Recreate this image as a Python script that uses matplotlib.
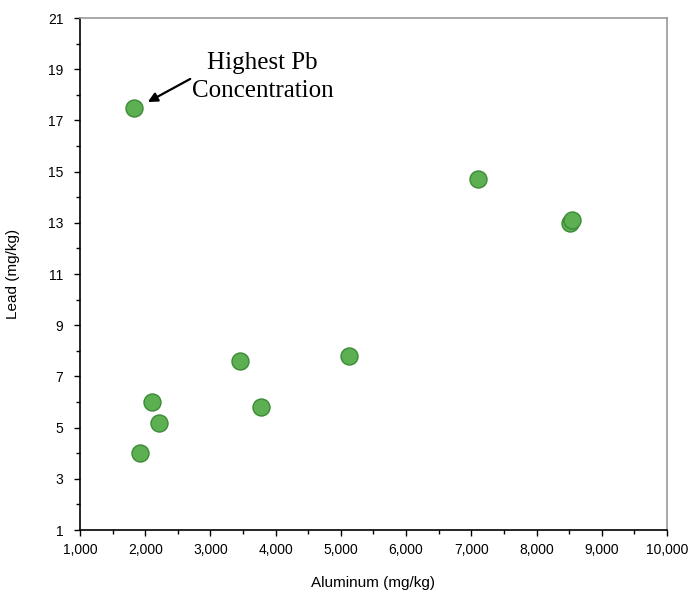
import matplotlib
matplotlib.use('Agg')
import matplotlib.pyplot as plt
from matplotlib.ticker import MultipleLocator, FuncFormatter

# aluminum vs lead concentrations (mg/kg)
aluminum = [1830, 7100, 8520, 8540, 5130, 3450, 3780, 2100, 2210, 1920]
lead = [17.5, 14.7, 13.0, 13.1, 7.8, 7.6, 5.8, 6.0, 5.2, 4.0]

x_ticks = list(range(1000, 10001, 1000))
y_ticks = list(range(1, 22, 2))

fig = plt.figure(figsize=(6.93, 5.93), dpi=100)
ax = fig.add_axes([0.1154, 0.1062, 0.8471, 0.8634])

ax.scatter(aluminum, lead, s=150, color='#5cb052', edgecolor='#3d8a36',
           linewidth=1.0, zorder=3)

ax.set_xlim(1000, 10000)
ax.set_ylim(1, 21)
ax.set_xticks(x_ticks)
ax.set_yticks(y_ticks)
ax.xaxis.set_minor_locator(MultipleLocator(500))
ax.yaxis.set_minor_locator(MultipleLocator(1))
ax.xaxis.set_major_formatter(FuncFormatter(lambda v, p: f'{int(v):,}'))

ax.tick_params(which='both', direction='out', length=4, width=1,
               labelsize=10)
ax.tick_params(axis='y', pad=8)
ax.tick_params(axis='x', pad=5)
ax.tick_params(which='minor', length=3)
for lbl in ax.get_xticklabels() + ax.get_yticklabels():
    lbl.set_fontfamily('Liberation Sans')

ax.spines['left'].set_color('black')
ax.spines['bottom'].set_color('black')
ax.spines['top'].set_color('#999999')
ax.spines['right'].set_color('#999999')
for s in ax.spines.values():
    s.set_linewidth(1.2)

ax.set_xlabel('Aluminum (mg/kg)', fontsize=11, fontfamily='Liberation Sans',
              labelpad=14)
ax.set_ylabel('Lead (mg/kg)', fontsize=11, fontfamily='Liberation Sans',
              labelpad=20)

# callout for the max lead sample
ax.text(3800, 18.7, 'Highest Pb\nConcentration', ha='center', va='center',
        fontsize=18, fontfamily='Liberation Serif', linespacing=1.4)
ax.annotate('', xy=(2040, 17.72), xytext=(2690, 18.62),
            arrowprops=dict(arrowstyle='-|>', color='black', lw=1.6,
                            shrinkA=0, shrinkB=0, mutation_scale=14))

fig.savefig('out.png', dpi=100)
